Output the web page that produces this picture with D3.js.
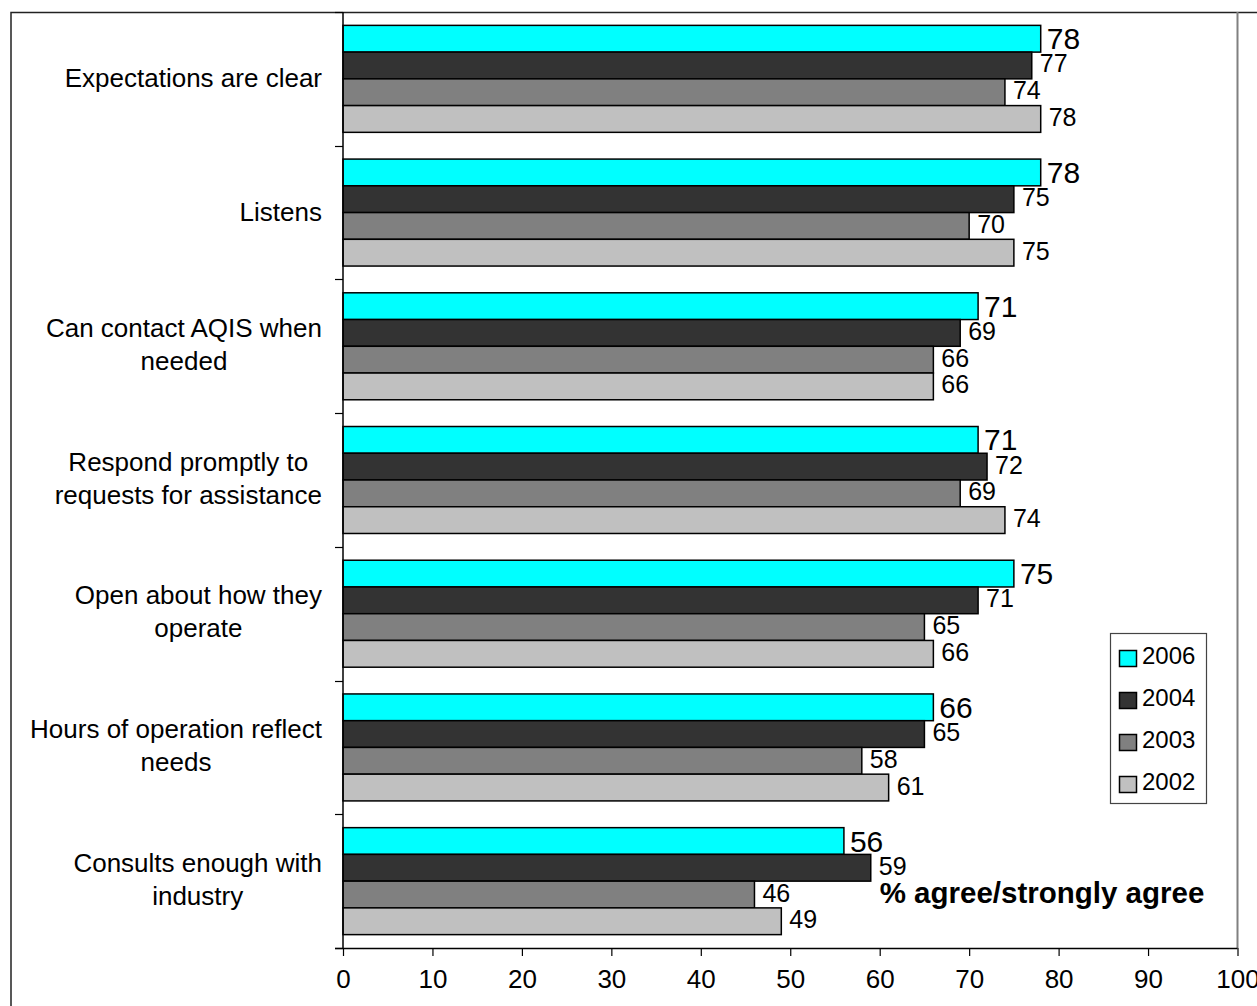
<!DOCTYPE html>
<html>
<head>
<meta charset="utf-8">
<script src="https://cdn.jsdelivr.net/npm/d3@7"></script>
<style>
  html, body { margin: 0; padding: 0; background: #fff; }
  svg { display: block; font-family: "Liberation Sans", Arial, sans-serif; }
</style>
</head>
<body>
<svg id="chart" width="1257" height="1006"></svg>
<script>
// Survey items, each split into the lines it is printed on
const categories = [
  ["Expectations are clear"],
  ["Listens"],
  ["Can contact AQIS when", "needed"],
  ["Respond promptly to", "requests for assistance"],
  ["Open about how they", "operate"],
  ["Hours of operation reflect", "needs"],
  ["Consults enough with", "industry"]
];

const years = ["2006", "2004", "2003", "2002"];

// % agree/strongly agree per item, one array per survey year
const values2006 = [78, 78, 71, 71, 75, 66, 56];
const values2004 = [77, 75, 69, 72, 71, 65, 59];
const values2003 = [74, 70, 66, 69, 65, 58, 46];
const values2002 = [78, 75, 66, 74, 66, 61, 49];

const xTicks = [0, 10, 20, 30, 40, 50, 60, 70, 80, 90, 100];
const noteText = "% agree/strongly agree";

const seriesValues = [values2006, values2004, values2003, values2002];
const colors = ["#00FFFF", "#333333", "#808080", "#C0C0C0"];

const svg = d3.select("#chart");
const plot = { left: 343, right: 1237.5, top: 12, bottom: 948 };

// outer chart frame
svg.append("rect")
  .attr("x", 11).attr("y", 12.5)
  .attr("width", 1400).attr("height", 1200)
  .attr("fill", "#fff").attr("stroke", "#222").attr("stroke-width", 1.5);

const x = d3.scaleLinear().domain([0, 100]).range([plot.left, plot.right]);
const y = d3.scaleBand().domain(d3.range(categories.length))
  .range([plot.top, plot.bottom]).paddingInner(0).paddingOuter(0);
const bw = y.bandwidth();
const ySeries = d3.scaleBand().domain(years).range([bw * 0.1, bw * 0.9]).padding(0);

// plot area right edge
svg.append("line")
  .attr("x1", plot.right).attr("x2", plot.right)
  .attr("y1", plot.top).attr("y2", plot.bottom)
  .attr("stroke", "#808080").attr("stroke-width", 2);

// bars and value labels
const groups = svg.append("g").selectAll("g")
  .data(categories.map((c, i) => i))
  .join("g")
  .attr("transform", i => `translate(0,${y(i)})`);

years.forEach((yr, s) => {
  groups.append("rect")
    .attr("x", x(0))
    .attr("y", ySeries(yr))
    .attr("width", i => x(seriesValues[s][i]) - x(0))
    .attr("height", ySeries.bandwidth())
    .attr("fill", colors[s])
    .attr("stroke", "#000")
    .attr("stroke-width", 1.5);

  groups.append("text")
    .attr("x", i => x(seriesValues[s][i]) + (s === 0 ? 6 : 8))
    .attr("y", ySeries(yr) + ySeries.bandwidth() / 2 + (s === 0 ? 10.5 : 7))
    .attr("font-size", s === 0 ? 30 : 25)
    .attr("fill", "#000")
    .text(i => seriesValues[s][i]);
});

// x axis
const xAxis = svg.append("g")
  .attr("transform", `translate(0,${plot.bottom})`)
  .call(d3.axisBottom(x).tickValues(xTicks).tickSize(8).tickPadding(14).tickSizeOuter(0));
xAxis.select(".domain").attr("stroke", "#000").attr("stroke-width", 1.5)
  .attr("d", `M${plot.left - 8},0.5H${plot.right}`);
xAxis.selectAll(".tick line").attr("stroke", "#000").attr("stroke-width", 1.2);
xAxis.selectAll(".tick text")
  .attr("font-size", 26).attr("font-family", "Liberation Sans, Arial, sans-serif")
  .attr("fill", "#000");

// y axis with ticks on category boundaries
const yAxis = svg.append("g").attr("transform", `translate(${plot.left},0)`);
yAxis.append("line")
  .attr("x1", 0).attr("x2", 0).attr("y1", plot.top).attr("y2", plot.bottom)
  .attr("stroke", "#000").attr("stroke-width", 1.5);
yAxis.selectAll("line.tk")
  .data(d3.range(categories.length + 1))
  .join("line").attr("class", "tk")
  .attr("x1", -8).attr("x2", 0)
  .attr("y1", i => Math.round(plot.top + i * bw) + 0.5)
  .attr("y2", i => Math.round(plot.top + i * bw) + 0.5)
  .attr("stroke", "#000").attr("stroke-width", 1.2);

// category labels: lines centred on each other, block right-aligned to the axis
const labelRight = plot.left - 21;
const lineH = 33;
categories.forEach((lines, i) => {
  const cy = y(i) + bw / 2;
  const g = svg.append("g");
  const texts = lines.map((ln, k) => g.append("text")
    .attr("font-size", 26).attr("fill", "#000")
    .attr("text-anchor", "middle")
    .attr("y", cy + 8.5 + (k - (lines.length - 1) / 2) * lineH - (lines.length > 1 ? 1.5 : 0))
    .text(ln));
  const maxW = d3.max(texts, t => t.node().getComputedTextLength());
  texts.forEach(t => t.attr("x", labelRight - maxW / 2));
});

// note text
svg.append("text")
  .attr("x", x(60)).attr("y", y(6) + bw * 0.66)
  .attr("font-size", 29.5).attr("font-weight", "bold")
  .attr("fill", "#000")
  .text(noteText);

// legend
const legend = svg.append("g").attr("transform", "translate(1110,633)");
legend.append("rect")
  .attr("x", 0.5).attr("y", 0.5).attr("width", 96).attr("height", 170)
  .attr("fill", "#fff").attr("stroke", "#444").attr("stroke-width", 1.2);
years.forEach((yr, s) => {
  const row = legend.append("g").attr("transform", `translate(0,${17 + s * 42})`);
  row.append("rect")
    .attr("x", 9.5).attr("y", 0.5).attr("width", 17).attr("height", 16)
    .attr("fill", colors[s]).attr("stroke", "#000").attr("stroke-width", 1.5);
  row.append("text")
    .attr("x", 32).attr("y", 14)
    .attr("font-size", 24).attr("fill", "#000")
    .text(yr);
});
</script>
</body>
</html>
